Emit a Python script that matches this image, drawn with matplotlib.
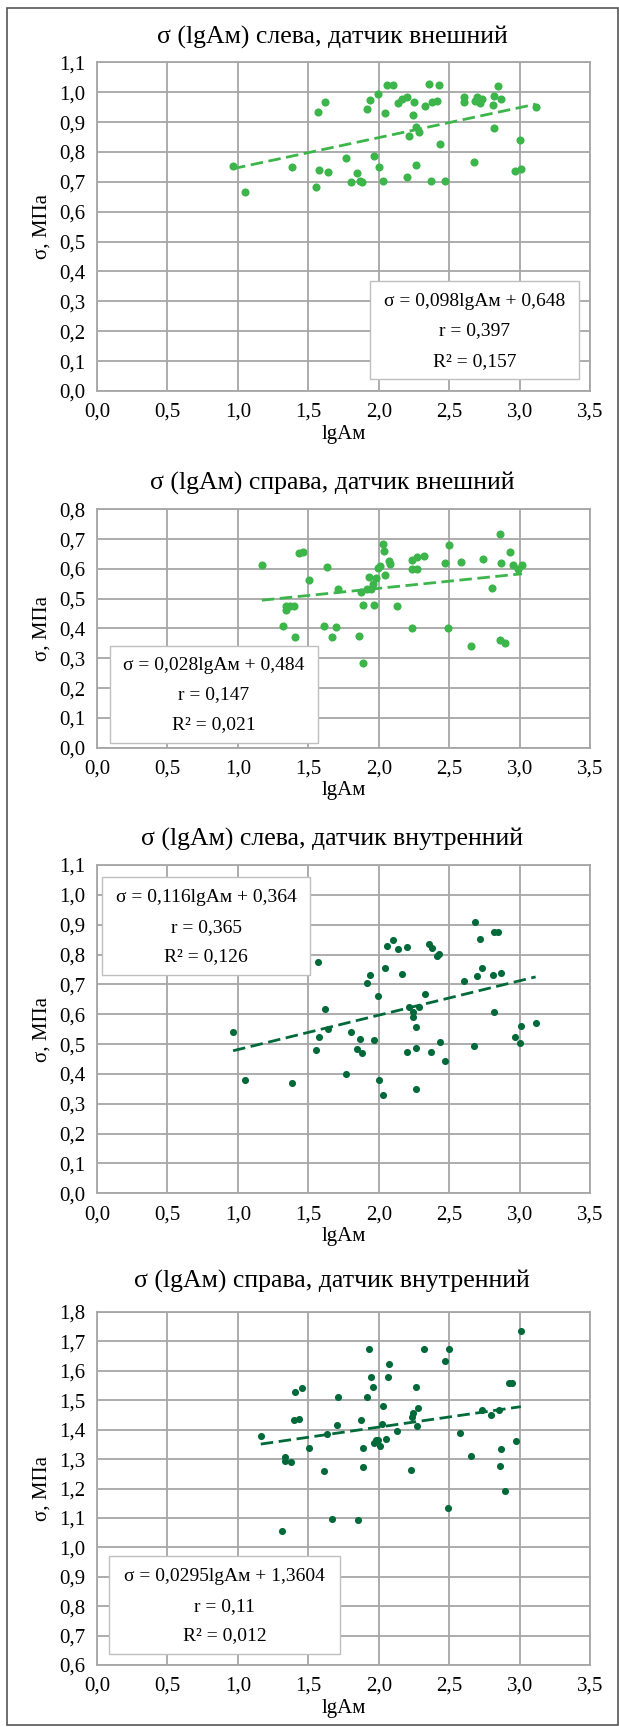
import numpy as np
import matplotlib.pyplot as plt
from matplotlib.patches import Rectangle

plt.rcParams['font.family'] = ['Liberation Serif', 'DejaVu Serif']

# ---------------------------------------------
# данные
# ---------------------------------------------
# слева, датчик внешний
x1 = [0.966, 1.053, 1.386, 1.568, 1.616, 1.557, 1.579, 1.641, 1.767, 1.800,
      1.848, 1.868, 1.884, 1.915, 1.938, 1.966, 1.996, 2.005, 2.027, 2.044,
      2.061, 2.103, 2.134, 2.164, 2.198, 2.201, 2.212, 2.243, 2.248, 2.262,
      2.268, 2.288, 2.330, 2.360, 2.374, 2.380, 2.416, 2.428, 2.436, 2.472,
      2.604, 2.604, 2.674, 2.682, 2.696, 2.710, 2.722, 2.736, 2.808, 2.820,
      2.820, 2.845, 2.870, 2.968, 3.004, 3.010, 3.114]
y1 = [0.753, 0.667, 0.751, 0.935, 0.967, 0.683, 0.738, 0.734, 0.781, 0.698,
      0.728, 0.703, 0.700, 0.945, 0.973, 0.786, 0.994, 0.748, 0.704, 0.932,
      1.023, 1.023, 0.963, 0.977, 0.983, 0.717, 0.852, 0.924, 0.967, 0.884,
      0.756, 0.866, 0.955, 1.026, 0.702, 0.967, 0.969, 1.023, 0.825, 0.702,
      0.985, 0.967, 0.768, 0.972, 0.983, 0.974, 0.963, 0.978, 0.958, 0.988,
      0.879, 1.021, 0.978, 0.737, 0.839, 0.743, 0.952]

# справа, датчик внешний
x2 = [1.170, 1.319, 1.342, 1.342, 1.369, 1.397, 1.409, 1.434, 1.462, 1.507,
      1.612, 1.633, 1.671, 1.699, 1.711, 1.860, 1.877, 1.888, 1.888, 1.916,
      1.928, 1.942, 1.957, 1.966, 1.982, 1.996, 2.008, 2.029, 2.038, 2.048,
      2.074, 2.079, 2.131, 2.233, 2.238, 2.238, 2.274, 2.274, 2.324, 2.473,
      2.490, 2.500, 2.581, 2.655, 2.742, 2.806, 2.861, 2.861, 2.871, 2.899,
      2.930, 2.953, 2.986, 3.017]
y2 = [0.613, 0.410, 0.462, 0.476, 0.476, 0.476, 0.370, 0.653, 0.657, 0.563,
      0.410, 0.605, 0.371, 0.405, 0.531, 0.376, 0.524, 0.480, 0.283, 0.533,
      0.574, 0.533, 0.549, 0.480, 0.569, 0.602, 0.609, 0.685, 0.659, 0.581,
      0.628, 0.618, 0.475, 0.400, 0.629, 0.601, 0.640, 0.599, 0.643, 0.619,
      0.402, 0.680, 0.622, 0.341, 0.634, 0.536, 0.718, 0.363, 0.619, 0.353,
      0.656, 0.612, 0.598, 0.612]

# слева, датчик внутренний
x3 = [0.966, 1.053, 1.386, 1.568, 1.557, 1.579, 1.616, 1.641, 1.767, 1.800,
      1.848, 1.868, 1.884, 1.915, 1.938, 1.966, 1.996, 2.005, 2.027, 2.044,
      2.061, 2.103, 2.134, 2.164, 2.198, 2.201, 2.212, 2.243, 2.246, 2.262,
      2.262, 2.268, 2.288, 2.330, 2.360, 2.374, 2.380, 2.416, 2.428, 2.436,
      2.472, 2.604, 2.674, 2.682, 2.696, 2.722, 2.736, 2.808, 2.820, 2.820,
      2.845, 2.870, 2.968, 3.004, 3.010, 3.114]
y3 = [0.539, 0.381, 0.371, 0.775, 0.480, 0.523, 0.616, 0.550, 0.400, 0.541,
      0.483, 0.517, 0.470, 0.705, 0.731, 0.512, 0.662, 0.381, 0.331, 0.756,
      0.830, 0.848, 0.819, 0.734, 0.824, 0.472, 0.625, 0.606, 0.592, 0.556,
      0.488, 0.349, 0.623, 0.669, 0.834, 0.473, 0.823, 0.794, 0.801, 0.506,
      0.444, 0.713, 0.494, 0.908, 0.729, 0.853, 0.754, 0.733, 0.606, 0.877,
      0.877, 0.739, 0.523, 0.504, 0.561, 0.571]

# справа, датчик внутренний
x4 = [1.163, 1.316, 1.336, 1.336, 1.374, 1.396, 1.403, 1.431, 1.457, 1.507,
      1.613, 1.630, 1.668, 1.701, 1.711, 1.853, 1.877, 1.888, 1.888, 1.917,
      1.931, 1.945, 1.957, 1.964, 1.983, 1.995, 2.012, 2.024, 2.033, 2.052,
      2.069, 2.071, 2.128, 2.229, 2.237, 2.243, 2.267, 2.271, 2.276, 2.319,
      2.468, 2.490, 2.497, 2.577, 2.652, 2.736, 2.800, 2.858, 2.856, 2.865,
      2.896, 2.926, 2.948, 2.974, 3.009]
y4 = [1.377, 1.056, 1.308, 1.292, 1.291, 1.434, 1.527, 1.436, 1.542, 1.339,
      1.260, 1.386, 1.097, 1.415, 1.512, 1.094, 1.434, 1.339, 1.273, 1.512,
      1.675, 1.578, 1.544, 1.355, 1.364, 1.364, 1.344, 1.420, 1.482, 1.368,
      1.578, 1.622, 1.397, 1.262, 1.443, 1.457, 1.546, 1.413, 1.475, 1.675,
      1.633, 1.134, 1.675, 1.389, 1.309, 1.466, 1.450, 1.275, 1.468, 1.333,
      1.191, 1.559, 1.559, 1.362, 1.734]

titles = ["σ (lgAм) слева, датчик внешний",
          "σ (lgAм) справа, датчик внешний",
          "σ (lgAм) слева, датчик внутренний",
          "σ (lgAм) справа, датчик внутренний"]
labels = [["σ = 0,098lgAм + 0,648", "r = 0,397", "R² = 0,157"],
          ["σ = 0,028lgAм + 0,484", "r = 0,147", "R² = 0,021"],
          ["σ = 0,116lgAм + 0,364", "r = 0,365", "R² = 0,126"],
          ["σ = 0,0295lgAм + 1,3604", "r = 0,11", "R² = 0,012"]]

# ---------------------------------------------
# оформление
# ---------------------------------------------
W, H = 619, 1727
fig = plt.figure(figsize=(W / 100, H / 100), dpi=100)
fig.patches.append(Rectangle((6.5 / W, 1 - 1725 / H), 611 / W, 1717 / H,
                             transform=fig.transFigure, fill=False,
                             edgecolor='#555555', linewidth=1.2))

light = '#3cb54a'
dark = '#00693a'
grid_c = '#a6a6a6'

# (top, bottom, ymin, ymax, title_y, рамка подписи, y строк подписи)
panels = [
    (62.3, 391.0, 0.0, 1.1, 37, (1.94, 0.039, 3.42, 0.368), (0.301, 0.201, 0.100)),
    (509.3, 747.7, 0.0, 0.8, 483, (0.092, 0.0145, 1.568, 0.342), (0.275, 0.177, 0.076)),
    (865.0, 1193.3, 0.0, 1.1, 839, (0.036, 0.731, 1.512, 1.060), (0.991, 0.891, 0.792)),
    (1312.0, 1665.0, 0.6, 1.8, 1281, (0.084, 0.639, 1.728, 0.969), (0.900, 0.800, 0.700)),
]
data = [(x1, y1, light, 34), (x2, y2, light, 34), (x3, y3, dark, 26), (x4, y4, dark, 26)]
left, right = 97, 590

for i, (p, d) in enumerate(zip(panels, data)):
    top, bottom, ymin, ymax, ty, box, texty = p
    xs, ys, col, ms = d
    ax = fig.add_axes([left / W, 1 - bottom / H, (right - left) / W, (bottom - top) / H])
    ax.set_xlim(0, 3.5)
    ax.set_ylim(ymin, ymax)
    ax.set_xticks(np.arange(0, 3.51, 0.5))
    ax.set_yticks(np.arange(ymin, ymax + 0.001, 0.1))
    ax.set_xticklabels([f"{v:.1f}".replace('.', ',') for v in np.arange(0, 3.51, 0.5)])
    ax.set_yticklabels([f"{v:.1f}".replace('.', ',') for v in np.arange(ymin, ymax + 0.001, 0.1)])
    ax.tick_params(length=0, labelsize=15)
    ax.tick_params(axis='x', pad=8.5)
    ax.tick_params(axis='y', pad=8.5)
    ax.grid(True, color=grid_c, linewidth=1.3)
    ax.set_axisbelow(True)
    for s in ax.spines.values():
        s.set_color(grid_c)
        s.set_linewidth(1.3)

    ax.scatter(xs, ys, s=ms, color=col, zorder=3, linewidths=0)
    k, b = np.polyfit(xs, ys, 1)
    xl = np.array([min(xs), max(xs)])
    ax.plot(xl, k * xl + b, color=col, linewidth=2, dashes=(4.5, 2), zorder=3)

    ax.add_patch(Rectangle((box[0], box[1]), box[2] - box[0], box[3] - box[1],
                           facecolor='white', edgecolor='#bfbfbf', linewidth=1, zorder=4))
    cx = (box[0] + box[2]) / 2
    for t, yy in zip(labels[i], texty):
        ax.text(cx, yy, t, ha='center', va='center', fontsize=14, zorder=5)

    ax.set_ylabel("σ, МПа", fontsize=15, labelpad=5)
    fig.text(332 / W, 1 - ty / H, titles[i], ha='center', va='center', fontsize=18.5)
    ax.set_xlabel("lgAм", fontsize=15, labelpad=2)

fig.savefig("out.png", dpi=100)
